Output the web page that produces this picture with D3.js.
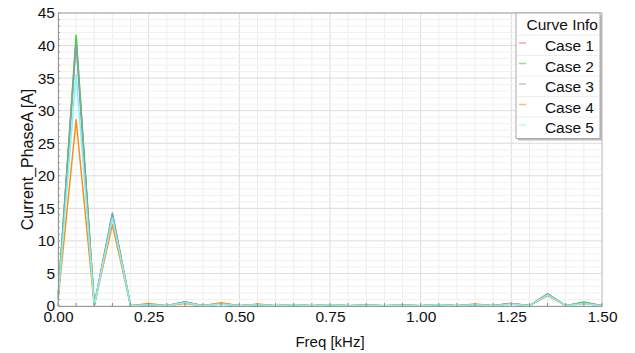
<!DOCTYPE html>
<html>
<head>
<meta charset="utf-8">
<script src="https://cdn.jsdelivr.net/npm/d3@7"></script>
<style>
  body { margin: 0; background: #fff; }
  svg text { font-family: "Liberation Sans", Arial, sans-serif; }
</style>
</head>
<body>
<svg id="chart" width="635" height="353"></svg>
<script>
// frequencies in kHz, 0.05 step
const freq = d3.range(0, 31).map(i => +(i * 0.05).toFixed(2));

const seriesNames = ["Case 1", "Case 2", "Case 3", "Case 4", "Case 5"];
const seriesColors = ["#ff6666", "#33dd33", "#8c9cb4", "#ff8c1a", "#7ff5f5"];

const case1 = [1.0, 41.0, 0.1, 14.0, 0.05, 0.2, 0.05, 0.6, 0.05, 0.4, 0.05, 0.2, 0.05, 0.2, 0.05, 0.2, 0.05, 0.1, 0.05, 0.1, 0.05, 0.2, 0.05, 0.2, 0.05, 0.4, 0.05, 1.8, 0.05, 0.5, 0.05];
const case2 = [1.2, 41.6, 0.1, 14.1, 0.05, 0.2, 0.05, 0.6, 0.05, 0.4, 0.05, 0.2, 0.05, 0.2, 0.05, 0.2, 0.05, 0.1, 0.05, 0.1, 0.05, 0.2, 0.05, 0.2, 0.05, 0.4, 0.05, 1.8, 0.05, 0.6, 0.05];
const case3 = [1.1, 40.2, 0.1, 14.3, 0.05, 0.2, 0.05, 0.6, 0.05, 0.3, 0.05, 0.2, 0.05, 0.2, 0.05, 0.2, 0.05, 0.1, 0.05, 0.1, 0.05, 0.2, 0.05, 0.2, 0.05, 0.4, 0.05, 1.9, 0.05, 0.5, 0.05];
const case4 = [0.9, 28.6, 0.1, 12.5, 0.05, 0.4, 0.05, 0.4, 0.05, 0.5, 0.05, 0.3, 0.05, 0.2, 0.05, 0.2, 0.05, 0.1, 0.05, 0.1, 0.05, 0.2, 0.05, 0.3, 0.05, 0.3, 0.05, 1.6, 0.05, 0.4, 0.05];
const case5 = [1.0, 35.5, 0.1, 13.5, 0.05, 0.2, 0.05, 0.5, 0.05, 0.3, 0.05, 0.2, 0.05, 0.2, 0.05, 0.2, 0.05, 0.1, 0.05, 0.1, 0.05, 0.2, 0.05, 0.2, 0.05, 0.3, 0.05, 1.7, 0.05, 0.4, 0.05];

const xTicks = [0, 0.25, 0.5, 0.75, 1.0, 1.25, 1.5];
const yTicks = [0, 5, 10, 15, 20, 25, 30, 35, 40, 45];

const allSeries = [case1, case2, case3, case4, case5];

const margin = { top: 13, left: 58, bottom: 47, right: 33 };
const width = 635, height = 353;

const svg = d3.select("#chart");

const x = d3.scaleLinear().domain([0, 1.5]).range([margin.left, width - margin.right]);
const y = d3.scaleLinear().domain([0, 45]).range([height - margin.bottom, margin.top]);

// grid (minor every 0.05 / 1 A, major at ticks)
const grid = svg.append("g");
grid.selectAll(".v").data(freq).enter().append("line")
  .attr("x1", d => x(d)).attr("x2", d => x(d))
  .attr("y1", y(0)).attr("y2", y(45))
  .attr("stroke", d => xTicks.some(t => Math.abs(t - d) < 1e-6) ? "#dcdcdc" : "#eeeeee")
  .attr("stroke-width", 1);
grid.selectAll(".h").data(d3.range(0, 46)).enter().append("line")
  .attr("x1", x(0)).attr("x2", x(1.5))
  .attr("y1", d => y(d)).attr("y2", d => y(d))
  .attr("stroke", d => d % 5 === 0 ? "#dcdcdc" : "#f1f1f1")
  .attr("stroke-width", 1);

// frame top / right
svg.append("line").attr("x1", x(0)).attr("x2", x(1.5)).attr("y1", y(45)).attr("y2", y(45))
  .attr("stroke", "#c8c8c8").attr("stroke-width", 2);
svg.append("line").attr("x1", x(1.5)).attr("x2", x(1.5)).attr("y1", y(45)).attr("y2", y(0))
  .attr("stroke", "#c8c8c8").attr("stroke-width", 1);

// lines
const line = d3.line().x((d, i) => x(freq[i])).y(d => y(d));
allSeries.forEach((s, k) => {
  svg.append("path")
    .datum(s)
    .attr("fill", "none")
    .attr("stroke", seriesColors[k])
    .attr("stroke-width", 1.5)
    .attr("stroke-linejoin", "round")
    .attr("d", line);
});

// x axis
const xAxis = svg.append("g")
  .attr("transform", `translate(0, ${y(0)})`)
  .call(d3.axisBottom(x).tickValues(xTicks).tickFormat(d3.format(".2f")).tickSize(0).tickPadding(5));
xAxis.select(".domain").attr("stroke", "#999");
xAxis.selectAll("text").attr("font-size", 15.5).attr("fill", "#111");
svg.append("g").selectAll("line").data(freq).enter().append("line")
  .attr("x1", d => x(d)).attr("x2", d => x(d))
  .attr("y1", y(0)).attr("y2", y(0) - 3)
  .attr("stroke", "#888");

// y axis
const yAxis = svg.append("g")
  .attr("transform", `translate(${margin.left}, 0)`)
  .call(d3.axisLeft(y).tickValues(yTicks).tickSize(0).tickPadding(3));
yAxis.select(".domain").attr("stroke", "#999");
yAxis.selectAll("text").attr("font-size", 15.5).attr("fill", "#111");
svg.append("g").selectAll("line").data(d3.range(0, 46)).enter().append("line")
  .attr("x1", x(0)).attr("x2", x(0) + 2)
  .attr("y1", d => y(d)).attr("y2", d => y(d))
  .attr("stroke", "#999");

// axis labels
svg.append("text")
  .attr("x", (x(0) + x(1.5)) / 2).attr("y", 347)
  .attr("text-anchor", "middle").attr("font-size", 15).attr("fill", "#111")
  .text("Freq [kHz]");
svg.append("text")
  .attr("transform", `translate(33, ${(y(0) + y(45)) / 2}) rotate(-90)`)
  .attr("text-anchor", "middle").attr("font-size", 16).attr("fill", "#111")
  .text("Current_PhaseA [A]");

// legend
const lg = svg.append("g").attr("transform", "translate(516, 13)");
const lgW = 84, rowH = 20.5, headH = 22;
lg.append("rect").attr("x", 2).attr("y", 2).attr("width", lgW).attr("height", headH + rowH * 5 + 1)
  .attr("fill", "#bbb");
lg.append("rect").attr("x", 0).attr("y", 0).attr("width", lgW).attr("height", headH + rowH * 5 + 1)
  .attr("fill", "#fff").attr("stroke", "#aaa");
lg.append("text").attr("x", lgW - 2).attr("y", 17).attr("text-anchor", "end")
  .attr("font-size", 15.5).attr("fill", "#111").text("Curve Info");
seriesNames.forEach((n, k) => {
  const ry = headH + rowH * k;
  lg.append("line").attr("x1", 1).attr("x2", lgW - 1).attr("y1", ry).attr("y2", ry)
    .attr("stroke", "#eee");
  lg.append("line").attr("x1", 3).attr("x2", 10).attr("y1", ry + 8).attr("y2", ry + 8)
    .attr("stroke", seriesColors[k]).attr("stroke-width", 1.5).attr("opacity", 0.6);
  lg.append("text").attr("x", lgW - 6).attr("y", ry + 16).attr("text-anchor", "end")
    .attr("font-size", 15.5).attr("fill", "#111").text(n);
});
</script>
</body>
</html>
